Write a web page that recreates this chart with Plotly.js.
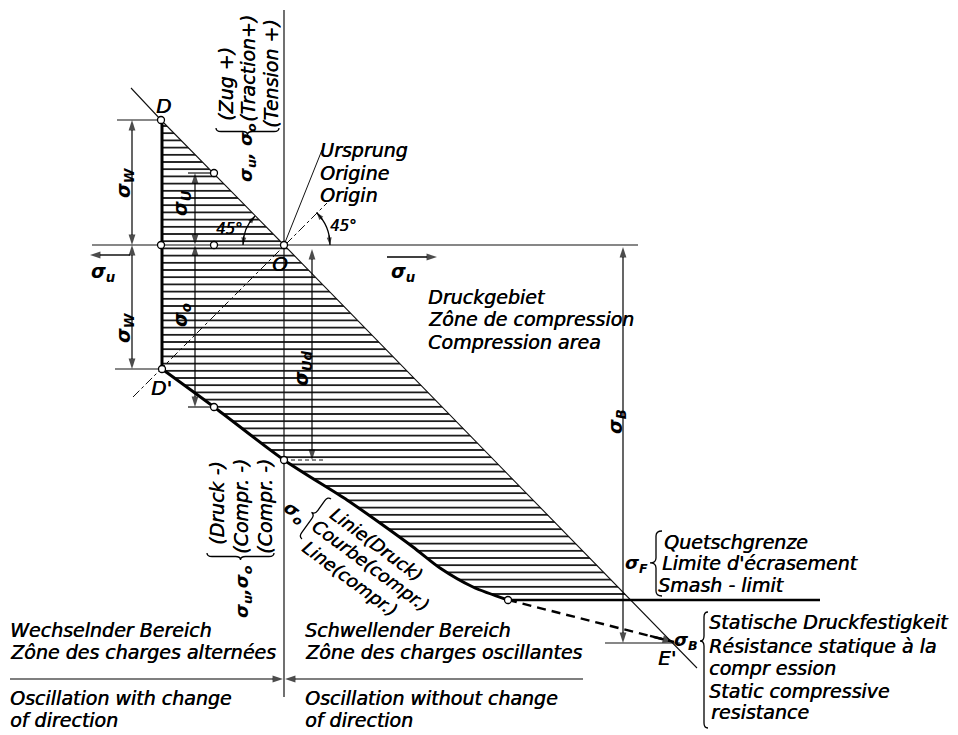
<!DOCTYPE html>
<html><head><meta charset="utf-8">
<script src="https://cdn.plot.ly/plotly-3.0.1.min.js"></script>
<style>html,body{margin:0;padding:0;background:#fff;overflow:hidden}#chart{width:958px;height:735px}</style>
</head><body><div id="chart"></div>
<script>
// ---------------- diagram data (drawing units) ----------------
const axisVX = [284, 284], axisVY = [10, 697];
const axisHX = [92, 638],  axisHY = [245, 245];
const diagonalX = [131, 161, 284, 673, 697];
const diagonalY = [88, 120, 245, 643, 668];
const line45X = [133, 327], line45Y = [397, 203];
const leaderX = [284, 322], leaderY = [245, 150];
const wallX = [162, 162], wallY = [120, 369];
const curveX = [162, 214, 284, 347, 380, 413, 440, 473, 508];
const curveY = [369, 407, 460, 500, 523, 547, 568, 587, 600];
const smashX = [508, 820], smashY = [600, 600];
const dashedX = [508, 674], dashedY = [600, 642];
const hatchCorner = [631, 600];
const pointX = [161, 214, 161, 214, 284, 162, 214, 284, 508];
const pointY = [120, 173, 245, 245, 245, 369, 407, 460, 600];
// dimension lines: x, top, bottom
const dimX   = [132, 132, 195, 195, 312, 623];
const dimTop = [120, 245, 173, 245, 249, 247];
const dimBot = [245, 369, 245, 407, 460, 643];
// extension lines
const extY  = [120, 369, 173, 407, 643];
const extX0 = [117, 115, 188, 188, 605];
const extX1 = [161, 162, 214, 214, 680];
const dashExtX = [284, 323], dashExtY = [460, 460];
// direction arrows [x0, y0, x1, y1]
const dirLeft = [130, 255, 90, 255];
const dirRight = [387, 257, 437, 257];
// bottom separator
const sepY = 679, sepLeftX = [10, 283], sepRightX = [583, 285];

// ---------------- texts ----------------
const txtTopRot = ['(Zug +)', '(Traction+)', '(Tension +)'];
const txtBotRot = ['(Druck -)', '(Compr. -)', '(Compr. -)'];
const txtOrigin = ['Ursprung', 'Origine', 'Origin'];
const txtArea = ['Druckgebiet', 'Zône de compression', 'Compression area'];
const txtSmash = ['Quetschgrenze', "Limite d'écrasement", 'Smash - limit'];
const txtStatic = ['Statische Druckfestigkeit', 'Résistance statique à la', 'compr ession', 'Static compressive', 'resistance'];
const txtCurve = ['Linie(Druck)', 'Courbe(compr.)', 'Line(compr.)'];
const txtLeft = ['Wechselnder Bereich', 'Zône des charges alternées', 'Oscillation with change', 'of direction'];
const txtRight = ['Schwellender Bereich', 'Zône des charges oscillantes', 'Oscillation without change', 'of direction'];

// ---------------- build ----------------
const FONT = 'DejaVu Sans';
const thin = {color: '#111', width: 1.2};
const traces = [];

// hatched area
const hx = [diagonalX[1], diagonalX[2], hatchCorner[0]].concat(curveX.slice().reverse());
const hy = [diagonalY[1], diagonalY[2], hatchCorner[1]].concat(curveY.slice().reverse());
traces.push({x: hx, y: hy, mode: 'lines', fill: 'toself', fillcolor: 'rgba(255,255,255,0)',
  fillpattern: {shape: '-', size: 7.2, solidity: 0.24, fgcolor: '#111', bgcolor: 'rgba(255,255,255,0)'},
  line: {width: 0}, hoverinfo: 'skip'});

function seg(x, y, line) { traces.push({x: x, y: y, mode: 'lines', line: line, hoverinfo: 'skip'}); }
function arrow(x0, y0, x1, y1, w, sz) {
  traces.push({x: [x0, x1], y: [y0, y1], mode: 'lines+markers', hoverinfo: 'skip',
    line: {color: '#000', width: w || 1.2},
    marker: {symbol: 'arrow', size: [0, sz || 11], angleref: 'previous', color: '#000', line: {width: 0}}});
}
function dim(x, y0, y1) {
  const m = (y0 + y1) / 2;
  arrow(x, m, x, y0); arrow(x, m, x, y1);
}
seg(axisVX, axisVY, thin);
seg(axisHX, axisHY, thin);
seg(diagonalX, diagonalY, {color: '#111', width: 1.1});
seg(line45X, line45Y, {color: '#111', width: 1, dash: 'dashdot'});
seg(leaderX, leaderY, {color: '#111', width: 1});
seg(wallX, wallY, {color: '#000', width: 3});
seg(curveX, curveY, {color: '#000', width: 3, shape: 'spline', smoothing: 0.8});
seg(smashX, smashY, {color: '#000', width: 2.4});
seg(dashedX, dashedY, {color: '#000', width: 2.4, dash: '9px,6px'});
arrow(dashedX[1] - 24, dashedY[1] - 6.07, dashedX[1], dashedY[1], 2.4, 12);
seg(dashExtX, dashExtY, {color: '#111', width: 1, dash: '4px,3px'});
for (let i = 0; i < extY.length; i++) seg([extX0[i], extX1[i]], [extY[i], extY[i]], thin);
for (let i = 0; i < dimX.length; i++) dim(dimX[i], dimTop[i], dimBot[i]);
arrow(dirLeft[0], dirLeft[1], dirLeft[2], dirLeft[3], 1.4);
arrow(dirRight[0], dirRight[1], dirRight[2], dirRight[3], 1.4);
arrow(sepLeftX[0], sepY, sepLeftX[1], sepY);
arrow(sepRightX[0], sepY, sepRightX[1], sepY);

// 45° arcs with arrowheads at both ends
function arcPts(cx, cy, r, a1, a2) {
  const rad = d => d * Math.PI / 180;
  return [cx + r * Math.cos(rad(a1)), cy - r * Math.sin(rad(a1)), cx + r * Math.cos(rad(a2)), cy - r * Math.sin(rad(a2))];
}
[[41, 180, 135], [46, 0, 45]].forEach(a => {
  const [r, a1, a2] = a;
  const d = (a2 - a1) / Math.abs(a2 - a1);
  let p = arcPts(284, 245, r, a1 + d * 12, a1); arrow(p[0], p[1], p[2], p[3], 1.2, 8);
  p = arcPts(284, 245, r, a2 - d * 12, a2); arrow(p[0], p[1], p[2], p[3], 1.2, 8);
});

traces.push({x: pointX, y: pointY, mode: 'markers', hoverinfo: 'skip',
  marker: {symbol: 'circle', size: 7, color: '#fff', line: {color: '#000', width: 1.3}}});

// annotations (texts)
const ann = [];
function label(t, x, y, o) {
  o = o || {};
  ann.push({x: x, y: y, xref: 'x', yref: 'y', text: t, showarrow: false,
    xanchor: o.xa || 'center', yanchor: 'middle', textangle: o.a || 0,
    font: {family: FONT, size: o.s || 19, color: '#000', style: 'italic', weight: o.b ? 700 : 400,
      shadow: o.b ? 'none' : '0.5px 0 0 #000'}});
}
// upper rotated
label(txtTopRot[0], 226, 84, {a: -90});
label(txtTopRot[1], 248, 69, {a: -90});
label(txtTopRot[2], 271, 74, {a: -90});
label('σ<sub>u</sub>, σ<sub>o</sub>', 247, 153, {a: -90, b: 1, s: 18});
// lower rotated
label(txtBotRot[0], 217, 503, {a: -90});
label(txtBotRot[1], 241, 507, {a: -90});
label(txtBotRot[2], 265, 507, {a: -90});
label('σ<sub>u</sub>,σ<sub>o</sub>', 243, 592, {a: -90, b: 1, s: 18});
// origin
label(txtOrigin[0], 318, 150, {xa: 'left'});
label(txtOrigin[1], 318, 173, {xa: 'left'});
label(txtOrigin[2], 318, 195, {xa: 'left'});
label('45°', 229, 229, {s: 15});
label('45°', 343, 226, {s: 15});
label('D', 163, 106, {s: 20});
label('O', 280, 264, {s: 20});
label("D'", 161, 388, {s: 20});
label("E'", 667, 658, {s: 20});
label('σ<sub>W</sub>', 124, 183, {a: -90, b: 1});
label('σ<sub>W</sub>', 124, 328, {a: -90, b: 1});
label('σ<sub>U</sub>', 181, 203, {a: -90, b: 1});
label('σ<sub>o</sub>', 181, 315, {a: -90, b: 1});
label('σ<sub>Ud</sub>', 302, 368, {a: -90, b: 1});
label('σ<sub>B</sub>', 616, 422, {a: -90, b: 1});
label('σ<sub>u</sub>', 103, 272, {b: 1});
label('σ<sub>u</sub>', 403, 272, {b: 1});
// compression area
label(txtArea[0], 426, 297, {xa: 'left'});
label(txtArea[1], 426, 319, {xa: 'left'});
label(txtArea[2], 426, 342, {xa: 'left'});
// smash limit
label('σ<sub>F</sub>', 636, 564, {b: 1, s: 18});
label(txtSmash[0], 662, 542, {xa: 'left'});
label(txtSmash[1], 660, 563, {xa: 'left'});
label(txtSmash[2], 656, 585, {xa: 'left'});
// static
label('σ<sub>B</sub>', 686, 641, {b: 1, s: 18});
label(txtStatic[0], 707, 622, {xa: 'left'});
label(txtStatic[1], 707, 646, {xa: 'left'});
label(txtStatic[2], 707, 668, {xa: 'left'});
label(txtStatic[3], 707, 691, {xa: 'left'});
label(txtStatic[4], 709, 712, {xa: 'left'});
// curve label
label('σ<sub>o</sub>', 295, 513, {a: 36.5, b: 1, s: 18});
label(txtCurve[0], 377, 544, {a: 36.5, s: 18});
label(txtCurve[1], 371, 565, {a: 36.5, s: 18});
label(txtCurve[2], 350, 578, {a: 36.5, s: 18});
// bottom
const rowsY = [630, 652, 698, 720];
for (let i = 0; i < 4; i++) label(txtLeft[i], 8, rowsY[i], {xa: 'left'});
for (let i = 0; i < 4; i++) label(txtRight[i], 303, rowsY[i], {xa: 'left'});

// braces as shapes
function bracePath(p1, p2, n, depth, tipFrac) {
  const dx = p2[0] - p1[0], dy = p2[1] - p1[1], L = Math.hypot(dx, dy);
  const u = [dx / L, dy / L], h = depth / 2, m = L * tipFrac;
  const q = Math.min(5, m / 3, (L - m) / 3);
  const pt = (s, o) => (p1[0] + u[0] * s + n[0] * o).toFixed(1) + ',' + (p1[1] + u[1] * s + n[1] * o).toFixed(1);
  return 'M' + pt(0, 0) + ' Q' + pt(0, h) + ' ' + pt(q, h) + ' L' + pt(m - q, h) +
    ' Q' + pt(m, h) + ' ' + pt(m, depth) + ' Q' + pt(m, h) + ' ' + pt(m + q, h) +
    ' L' + pt(L - q, h) + ' Q' + pt(L, h) + ' ' + pt(L, 0);
}
function arcPath(cx, cy, r, a1, a2) {
  const rad = d => d * Math.PI / 180;
  const p = (rr, a) => (cx + rr * Math.cos(rad(a))).toFixed(1) + ',' + (cy - rr * Math.sin(rad(a))).toFixed(1);
  const mid = (a1 + a2) / 2, rc = r / Math.cos(rad((a2 - a1) / 2));
  return 'M' + p(r, a1) + ' Q' + p(rc, mid) + ' ' + p(r, a2);
}
const ut = [Math.cos(36.5 * Math.PI / 180), Math.sin(36.5 * Math.PI / 180)];
const shapes = [
  bracePath([216, 128], [279, 128], [0, 1], 7, 0.5),
  bracePath([207, 553], [274, 553], [0, 1], 7, 0.5),
  bracePath([662, 531], [662, 596], [-1, 0], 12, 0.49),
  bracePath([708, 612], [708, 728], [-1, 0], 8, 0.25),
  bracePath([331, 499], [302, 539], [-ut[0], -ut[1]], 8, 0.45),
  arcPath(284, 245, 41, 180, 135),
  arcPath(284, 245, 46, 0, 45)
].map(p => ({type: 'path', path: p, xref: 'x', yref: 'y', line: {color: '#000', width: 1.3}}));

const layout = {
  width: 958, height: 735, margin: {l: 0, r: 0, t: 0, b: 0},
  paper_bgcolor: '#fff', plot_bgcolor: '#fff', showlegend: false,
  xaxis: {range: [0, 958], visible: false, fixedrange: true},
  yaxis: {range: [735, 0], visible: false, fixedrange: true},
  annotations: ann, shapes: shapes
};
Plotly.newPlot('chart', traces, layout, {staticPlot: true, displayModeBar: false}).then(gd => {
  // re-anchor centred labels to their left edge (same visual position)
  const upd = {};
  gd._fullLayout.annotations.forEach((a, i) => {
    if (ann[i].xanchor === 'center' && a._xsize) {
      upd['annotations[' + i + '].xanchor'] = 'left';
      upd['annotations[' + i + '].x'] = ann[i].x - a._xsize / 2;
    }
  });
  return Plotly.relayout(gd, upd);
});
</script>
</body></html>
